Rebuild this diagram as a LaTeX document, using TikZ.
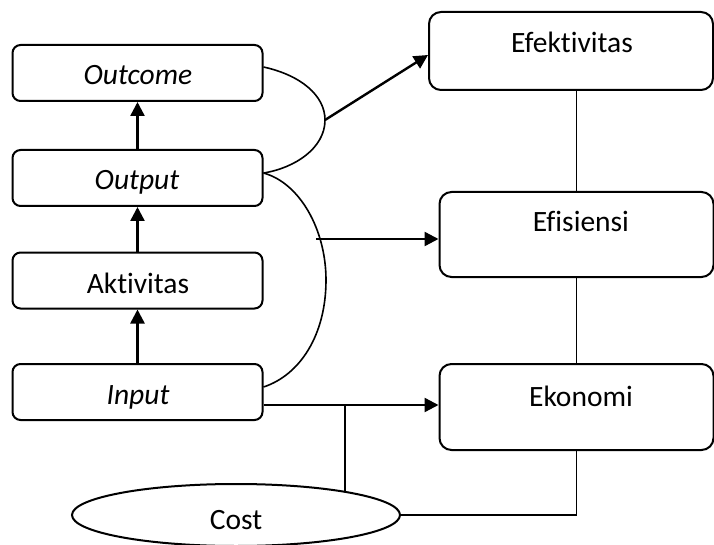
\documentclass[tikz,border=0pt]{standalone}
\usepackage{fontspec}
\setmainfont{Carlito}[Ligatures={NoCommon}]
\usetikzlibrary{arrows.meta,shapes.geometric,calc}
\begin{document}
\begin{tikzpicture}[x=1pt,y=-1pt,
  box/.style={draw,line width=2pt,rounded corners=8pt,minimum width=250pt,minimum height=56pt,inner sep=0pt},
  bigbox/.style={draw,line width=2pt,rounded corners=12pt,inner sep=0pt},
  lbl/.style={anchor=base,inner sep=0pt,font=\fontsize{29.5}{35}\selectfont},
  arr/.style={line width=2.4pt,-{Triangle[length=14pt,width=14pt]}},
  thin/.style={line width=1.6pt},
  curve/.style={line width=1.6pt}]
\useasboundingbox (0,0) rectangle (714,545);
% left boxes
\node[box] (outcome) at (137.5,73) {};
\node[box] (output) at (137.5,178) {};
\node[box] (aktivitas) at (137.5,280.5) {};
\node[box] (input) at (137.5,392) {};
\node[lbl] (toutcome) at (138,85) {\itshape Outcome};
\node[lbl] (toutput) at (137,190) {\itshape Output};
\node[lbl] (taktivitas) at (138,293) {Aktivitas};
\node[lbl] (tinput) at (138,404) {\itshape Input};
% right boxes
\node[bigbox,minimum width=284pt,minimum height=78pt] (efektivitas) at (571,51) {};
\node[bigbox,minimum width=274pt,minimum height=85pt] (efisiensi) at (576.5,234.5) {};
\node[bigbox,minimum width=274pt,minimum height=86pt] (ekonomi) at (576.5,407) {};
\node[lbl] (tefektivitas) at (572,53) {Efektivitas};
\node[lbl] (tefisiensi) at (581,232) {Efisiensi};
\node[lbl] (tekonomi) at (581,406) {Ekonomi};
% cost
\node[draw,ellipse,line width=2pt,minimum width=328pt,minimum height=62pt,inner sep=0pt] (cost) at (236,515) {};
\node[lbl] (tcost) at (236,529) {Cost};
% vertical arrows
\draw[arr] (input.north) -- (aktivitas.south);
\draw[arr] (aktivitas.north) -- (output.south);
\draw[arr] (output.north) -- (outcome.south);
% curves
\coordinate (m1) at (325,120);
\coordinate (m2) at (316,239);
\draw[curve] ($(outcome.east)+(0,-6)$) .. controls (300,75) and (325,95) .. (m1)
  .. controls (325,148) and (295,168) .. ($(output.east)+(0,-5)$);
\draw[curve] ($(output.east)+(0,-5)$) .. controls (300,183) and (326,230) .. (326,280)
  .. controls (326,335) and (300,375) .. ($(input.east)+(0,-5)$);
% arrows to right
\draw[arr] (m1) -- ($(efektivitas.west)+(0,4)$);
\draw[arr] (m2) -- (m2 -| efisiensi.west);
\coordinate (i1) at ($(input.east)+(0,13)$);
\draw[arr] (i1) -- (i1 -| ekonomi.west);
\coordinate (j) at (345,405);
\draw[thin] (j) -- (j |- cost.12);
% right vertical lines
\draw[thin] (efisiensi.north) -- (efisiensi.north |- efektivitas.south);
\draw[thin] (efisiensi.south) -- (ekonomi.north);
\draw[thin] (ekonomi.south) |- (cost.east);
\end{tikzpicture}
\end{document}
